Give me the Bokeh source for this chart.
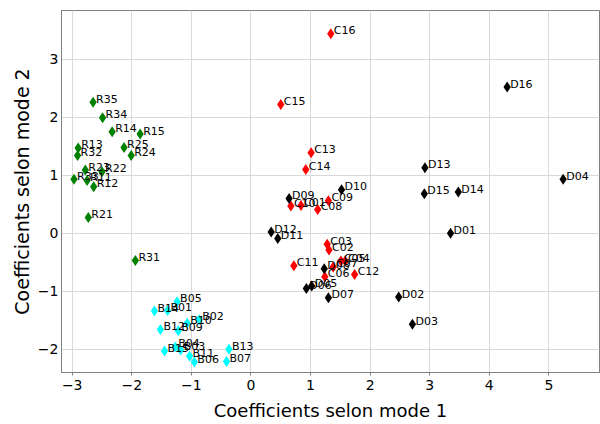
from bokeh.plotting import figure
from bokeh.models import ColumnDataSource, Range1d, FixedTicker
from bokeh.core.properties import value
from bokeh.embed import file_html
from bokeh.resources import INLINE

# --- data ---
r_names = ["R35", "R34", "R14", "R15", "R25", "R24", "R13", "R32", "R23", "R22", "R33", "R11", "R12", "R21", "R31"]
r_x = [-2.65, -2.49, -2.33, -1.86, -2.13, -2.01, -2.90, -2.91, -2.78, -2.50, -2.97, -2.75, -2.64, -2.73, -1.94]
r_y = [2.26, 1.99, 1.75, 1.71, 1.48, 1.34, 1.47, 1.34, 1.09, 1.06, 0.93, 0.91, 0.80, 0.27, -0.47]

b_names = ["B05", "B01", "B14", "B02", "B10", "B12", "B09", "B04", "B03", "B15", "B11", "B06", "B13", "B07"]
b_x = [-1.24, -1.40, -1.62, -0.87, -1.07, -1.52, -1.22, -1.27, -1.18, -1.45, -1.03, -0.95, -0.37, -0.41]
b_y = [-1.18, -1.33, -1.34, -1.49, -1.55, -1.66, -1.68, -1.96, -2.01, -2.03, -2.12, -2.22, -2.00, -2.21]

c_names = ["C16", "C15", "C13", "C14", "C10", "C01", "C08", "C09", "C03", "C02", "C11", "C07", "C05", "C04", "C06", "C12"]
c_x = [1.34, 0.50, 1.01, 0.92, 0.67, 0.84, 1.12, 1.30, 1.28, 1.31, 0.72, 1.38, 1.51, 1.58, 1.24, 1.74]
c_y = [3.44, 2.22, 1.39, 1.10, 0.47, 0.48, 0.41, 0.56, -0.19, -0.29, -0.56, -0.58, -0.48, -0.48, -0.75, -0.71]

d_names = ["D16", "D13", "D15", "D14", "D04", "D01", "D02", "D03", "D10", "D09", "D12", "D11", "D08", "D05", "D06", "D07"]
d_x = [4.30, 2.92, 2.91, 3.48, 5.24, 3.35, 2.48, 2.71, 1.52, 0.64, 0.34, 0.45, 1.23, 1.02, 0.93, 1.30]
d_y = [2.52, 1.13, 0.68, 0.71, 0.93, 0.00, -1.10, -1.57, 0.75, 0.60, 0.02, -0.09, -0.61, -0.91, -0.95, -1.11]

x_ticks = [-3, -2, -1, 0, 1, 2, 3, 4, 5]
y_ticks = [-2, -1, 0, 1, 2, 3]

groups = [
    (r_names, r_x, r_y, "green"),
    (b_names, b_x, b_y, "cyan"),
    (c_names, c_x, c_y, "red"),
    (d_names, d_x, d_y, "black"),
]

p = figure(frame_width=538, frame_height=362,
           x_range=Range1d(-3.18, 5.85), y_range=Range1d(-2.40, 3.84),
           output_backend="svg", toolbar_location=None,
           min_border_left=61, min_border_top=10, min_border_right=1, min_border_bottom=10)

p.background_fill_color = "white"
p.border_fill_color = "white"
p.outline_line_color = "#808080"
p.outline_line_width = 1

for names, xs, ys, col in groups:
    src = ColumnDataSource(dict(x=xs, y=ys, name=names))
    p.scatter("x", "y", source=src, marker="diamond", size=11,
              fill_color=col, line_color=None)
    p.text("x", "y", text="name", source=src, x_offset=3, y_offset=-3,
           text_font=value("DejaVu Sans"), text_font_size="11px",
           text_baseline="alphabetic", text_align="left", text_color="black")

def minus(v):
    return ("\u2212" + str(-v)) if v < 0 else str(v)

p.xaxis.ticker = FixedTicker(ticks=x_ticks)
p.yaxis.ticker = FixedTicker(ticks=y_ticks)
p.xaxis.major_label_overrides = {v: minus(v) for v in x_ticks}
p.yaxis.major_label_overrides = {v: minus(v) for v in y_ticks}

p.xaxis.axis_label = "Coefficients selon mode 1"
p.yaxis.axis_label = "Coefficients selon mode 2"
for ax in (p.xaxis, p.yaxis):
    ax.axis_label_text_font = "DejaVu Sans"
    ax.axis_label_text_font_style = "normal"
    ax.axis_label_text_color = "black"
    ax.major_label_text_font = "DejaVu Sans"
    ax.major_label_text_color = "black"
    ax.axis_line_color = "#808080"
    ax.major_tick_line_color = "#808080"
    ax.major_tick_in = 0
    ax.minor_tick_line_color = None

p.xaxis.major_tick_out = 3
p.xaxis.major_label_standoff = 4
p.xaxis.axis_label_standoff = 7
p.yaxis.major_tick_out = 0
p.yaxis.major_label_standoff = 3
p.yaxis.axis_label_standoff = 2

p.xaxis.axis_label_text_font_size = "18px"
p.yaxis.axis_label_text_font_size = "19px"
p.xaxis.major_label_text_font_size = "14px"
p.yaxis.major_label_text_font_size = "14px"

p.grid.grid_line_color = "#d9d9d9"
p.grid.grid_line_width = 1

open("out.html", "w").write(file_html(p, INLINE))
